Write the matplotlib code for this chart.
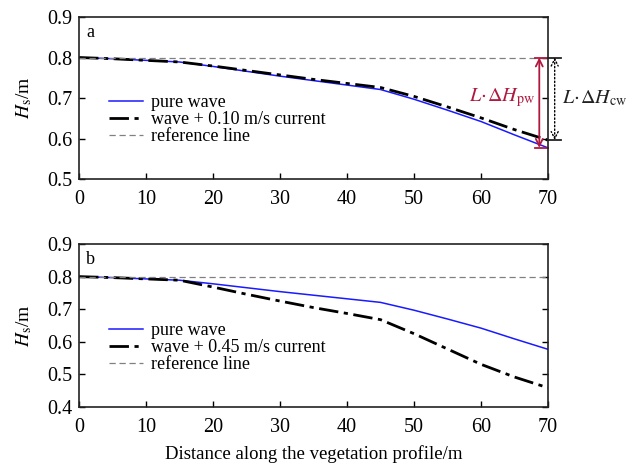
import numpy as np
import matplotlib
matplotlib.use("Agg")
import matplotlib.pyplot as plt

plt.rcParams['font.family'] = ['Liberation Serif', 'DejaVu Serif']
plt.rcParams['mathtext.fontset'] = 'stix'

# distance along profile (m)
dist = [0, 5, 10, 15, 20, 25, 30, 35, 40, 45, 50, 55, 60, 65, 70]

# significant wave height (m)
pure_wave = [0.800, 0.797, 0.793, 0.789, 0.778, 0.766, 0.754, 0.743, 0.732, 0.721,
             0.697, 0.670, 0.642, 0.609, 0.577]
current_010 = [0.800, 0.797, 0.793, 0.789, 0.779, 0.768, 0.757, 0.746, 0.736, 0.726,
               0.704, 0.678, 0.651, 0.622, 0.596]
current_045 = [0.800, 0.797, 0.793, 0.789, 0.768, 0.746, 0.725, 0.705, 0.687, 0.668,
               0.625, 0.578, 0.531, 0.492, 0.459]
ref_level = 0.8

panels = ['a', 'b']
current_labels = ['wave + 0.10 m/s current', 'wave + 0.45 m/s current']
y_limits = [(0.5, 0.9), (0.4, 0.9)]

fig = plt.figure(figsize=(6.28, 4.70), dpi=100)
ax_a = fig.add_axes([0.1258, 0.6191, 0.7468, 0.3447])
ax_b = fig.add_axes([0.1258, 0.1340, 0.7468, 0.3468])

red = '#b0183f'

for ax, letter, cur, lab, ylim in zip([ax_a, ax_b], panels, [current_010, current_045],
                                      current_labels, y_limits):
    ax.plot(dist, pure_wave, color='#1a1aff', lw=1.1, label='pure wave')
    ax.plot(dist, cur, color='black', lw=2.0, dashes=(7, 2, 1.5, 2), label=lab)
    ax.axhline(ref_level, color='#808080', lw=0.9, ls=(0, (5, 3)), label='reference line')
    ax.set_xlim(0, 70)
    ax.set_ylim(*ylim)
    ax.set_xticks(np.arange(0, 71, 10))
    ax.set_yticks(np.arange(ylim[0], 0.91, 0.1))
    ax.yaxis.set_major_formatter(matplotlib.ticker.FormatStrFormatter('%.1f'))
    ax.tick_params(direction='in', length=4, width=1, labelsize=14.5, right=True)
    ax.tick_params(axis='x', pad=8)
    ax.tick_params(axis='y', pad=5, labelright=False)
    for s in ax.spines.values():
        s.set_linewidth(1.2)
        s.set_color('#222222')
    ax.set_ylabel(r'$H_\mathrm{s}$/m', fontsize=14, labelpad=9)
    ax.text(0.015, 0.955, letter, transform=ax.transAxes, fontsize=13, va='top')
    ax.legend(loc='center left', bbox_to_anchor=(0.045, 0.365), frameon=False,
              fontsize=13, labelspacing=0.0, handlelength=1.9, handletextpad=0.4,
              borderpad=0)

ax_b.set_xlabel('Distance along the vegetation profile/m', fontsize=13.5, labelpad=6)

# annotation of height reduction in panel a
x_red = 68.7
x_blk = 71.0
end_pw = pure_wave[-1]
end_cw = current_010[-1]
ax_a.plot([68.1, 70], [ref_level, ref_level], color=red, lw=1.3, clip_on=False)
ax_a.plot([68.1, 70], [end_pw, end_pw], color=red, lw=1.3, clip_on=False)
ax_a.annotate('', xy=(x_red, end_pw), xytext=(x_red, ref_level),
              arrowprops=dict(arrowstyle='<->,head_length=0.5,head_width=0.25',
                              color=red, lw=1.3, shrinkA=0, shrinkB=0),
              annotation_clip=False)
ax_a.plot([70, 72.0], [ref_level, ref_level], color='#222222', lw=1.3, clip_on=False)
ax_a.plot([70, 72.0], [end_cw, end_cw], color='#222222', lw=1.3, clip_on=False)
ax_a.annotate('', xy=(x_blk, end_cw), xytext=(x_blk, ref_level),
              arrowprops=dict(arrowstyle='<->,head_length=0.5,head_width=0.25',
                              color='black', lw=1.0, ls=':', shrinkA=0, shrinkB=0),
              annotation_clip=False)
ax_a.text(68.1, 0.700, r'$L\!\cdot\!\Delta H_{\rm pw}$', color=red, fontsize=14.5,
          ha='right', va='center')
ax_a.text(72.1, 0.700, r'$L\!\cdot\!\Delta H_{\rm cw}$', color='#222222', fontsize=14.5,
          ha='left', va='center')

fig.savefig('out.png', dpi=100)
